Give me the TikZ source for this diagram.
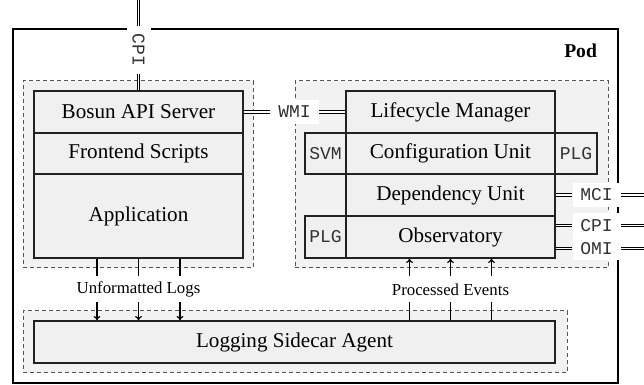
\documentclass[tikz,border=0pt]{standalone}
\usepackage{fontspec}
\setmainfont{Liberation Serif}
\setmonofont{Liberation Mono}
\usetikzlibrary{fit,calc,arrows.meta}
\definecolor{boxfill}{HTML}{F0F0F0}
\definecolor{grpfill}{HTML}{F2F2F2}
\definecolor{edgec}{HTML}{222222}
\definecolor{dashc}{HTML}{555555}
\definecolor{monoc}{HTML}{333333}
\newcommand{\dgmain}{\fontsize{10.55pt}{12pt}\selectfont}
\newcommand{\dgmono}{\fontsize{9pt}{10pt}\selectfont\ttfamily\color{monoc}}
\newcommand{\dglbl}{\fontsize{8.4pt}{10pt}\selectfont}
\newcommand{\dgpod}{\fontsize{9.8pt}{11pt}\selectfont\bfseries}
\begin{document}
\begin{tikzpicture}[x=0.5pt,y=-0.5pt,
  box/.style={draw=edgec, fill=boxfill, line width=0.6pt, inner sep=0pt, font=\dgmain, minimum width=104.5pt, minimum height=21pt},
  grp/.style={draw=dashc, fill=grpfill, dash pattern=on 2pt off 1.5pt, line width=0.5pt, inner sep=0pt},
  podframe/.style={draw=black, line width=0.8pt, inner sep=0pt},
  dbl/.style={draw=black, double, double distance=0.55pt, line width=0.55pt},
  iface/.style={fill=white, font=\dgmono, inner sep=0pt, minimum width=24pt, minimum height=12pt},
  flow/.style={line width=0.6pt, -{To[length=2.2pt,width=3.4pt]}},
  flowlbl/.style={fill=white, font=\dglbl, inner sep=1pt, minimum height=13pt}
]
\useasboundingbox (0,0) rectangle (644,385);
% containers
\node[podframe, fit={(13,29) (618,383)}] (podbox) {};
\node[font=\dgpod, anchor=east] (podlbl) at (604,51) {Pod};
\node[grp, fit={(23,81) (253,268)}] (leftgrp) {};
\node[grp, fit={(295,81) (608,268)}] (rightgrp) {};
\node[grp, fit={(23,311) (567,373)}] (loggrp) {};
% boxes
\node[box] (bosun) at (138.5,112) {Bosun API Server};
\node[box, minimum height=20.5pt] (frontend) at (138.5,153.5) {Frontend Scripts};
\node[box, minimum height=42pt] (app) at (138.5,216) {Application};
\node[box] (lifecycle) at (450.5,112) {Lifecycle Manager};
\node[box, minimum width=20.5pt, minimum height=20.5pt, font=\dgmono] (svm) at (325.5,153.5) {SVM};
\node[box, minimum height=20.5pt] (config) at (450.5,153.5) {Configuration Unit};
\node[box, minimum width=21pt, minimum height=20.5pt, font=\dgmono] (plgr) at (576,153.5) {PLG};
\node[box] (depend) at (450.5,195) {Dependency Unit};
\node[box, minimum width=20.5pt, font=\dgmono] (plgl) at (325.5,237) {PLG};
\node[box] (observ) at (450.5,237) {Observatory};
\node[box, minimum width=260.5pt] (logging) at (294.5,342) {Logging Sidecar Agent};
% log flows
\coordinate (u1) at ($(app.south)+(-41.5,0)$);
\coordinate (u2) at (app.south);
\coordinate (u3) at ($(app.south)+(41.5,0)$);
\foreach \c in {u1,u2,u3} \draw[flow] (\c) -- (\c |- logging.north);
\node[flowlbl] (ulog) at ($(app.south)!0.5!(app.south |- logging.north)$) {Unformatted Logs};
\coordinate (p1) at ($(observ.south)+(-41,0)$);
\coordinate (p2) at (observ.south);
\coordinate (p3) at ($(observ.south)+(41,0)$);
\foreach \c in {p1,p2,p3} \draw[flow] (\c |- logging.north) -- (\c);
\node[flowlbl] (pev) at ($(observ.south)!0.5!(observ.south |- logging.north)$) {Processed Events};
% interfaces
\coordinate (cpitopend) at (bosun.north |- 0,0);
\node[iface, rotate=-90] (cpitop) at (bosun.north |- 0,50) {CPI};
\draw[dbl] (cpitopend) -- (cpitop);
\draw[dbl] (cpitop) -- (bosun.north);
\node[iface] (wmi) at ($(bosun.east)!0.5!(lifecycle.west)$) {WMI};
\draw[dbl] (bosun.east) -- (wmi);
\draw[dbl] (wmi) -- (lifecycle.west);
\coordinate (mciend) at (depend.east -| 644,0);
\node[iface] (mci) at (depend.east -| 596.5,0) {MCI};
\draw[dbl] (depend.east) -- (mci);
\draw[dbl] (mci) -- (mciend);
\coordinate (obsA) at ($(observ.east)+(0,-11.5)$);
\coordinate (obsB) at ($(observ.east)+(0,11.5)$);
\coordinate (cpiend) at (obsA -| 644,0);
\coordinate (omiend) at (obsB -| 644,0);
\node[iface] (cpir) at (obsA -| 596.5,0) {CPI};
\node[iface] (omi) at (obsB -| 596.5,0) {OMI};
\draw[dbl] (obsA) -- (cpir);
\draw[dbl] (cpir) -- (cpiend);
\draw[dbl] (obsB) -- (omi);
\draw[dbl] (omi) -- (omiend);
\end{tikzpicture}
\end{document}
